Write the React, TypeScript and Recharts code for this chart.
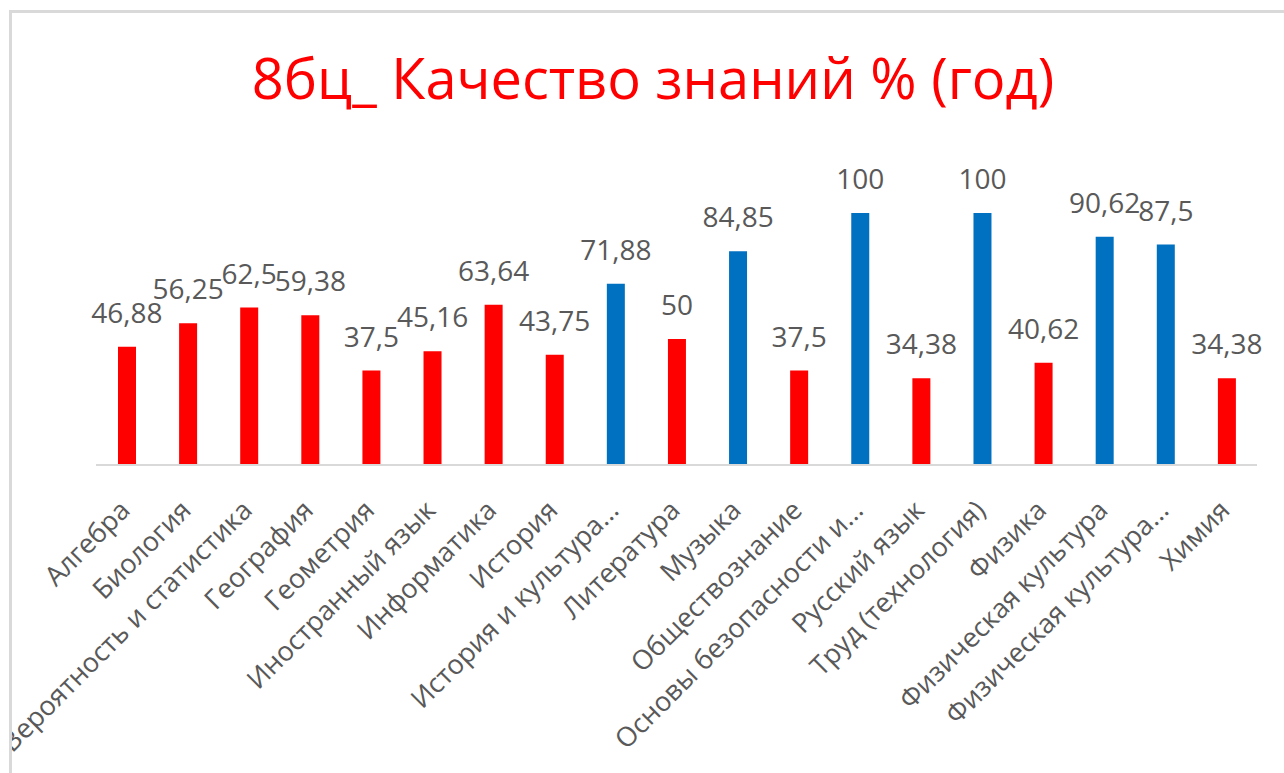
import React from "react";
import { BarChart, Bar, XAxis, YAxis, LabelList, Cell } from "recharts";

const subjects = [
  "Алгебра",
  "Биология",
  "Вероятность и статистика",
  "География",
  "Геометрия",
  "Иностранный язык",
  "Информатика",
  "История",
  "История и культура...",
  "Литература",
  "Музыка",
  "Обществознание",
  "Основы безопасности и...",
  "Русский язык",
  "Труд (технология)",
  "Физика",
  "Физическая культура",
  "Физическая культура...",
  "Химия",
];

const quality = [
  46.88, 56.25, 62.5, 59.38, 37.5, 45.16, 63.64, 43.75, 71.88, 50, 84.85, 37.5,
  100, 34.38, 100, 40.62, 90.62, 87.5, 34.38,
];

const title = "8бц_ Качество знаний % (год)";

const chartData = subjects.map((name, i) => ({ name, value: quality[i] }));

const FONT = "'Open Sans', 'Noto Sans', sans-serif";
const GREY = "#595959";

const SubjectTick = (props: any) => {
  const { x, y, payload } = props;
  return (
    <g transform={`translate(${x + 5},${y + 47})`}>
      <text
        transform="rotate(-45)"
        textAnchor="end"
        fill={GREY}
        fontSize={27}
        fontFamily={FONT}
      >
        {payload.value}
      </text>
    </g>
  );
};

const fmt = (v: any) => String(v).replace(".", ",");

export default function App() {
  return (
    <div
      style={{
        position: "absolute",
        left: 9,
        top: 10,
        width: 1275,
        height: 763,
        boxSizing: "border-box",
        borderTop: "3px solid #D9D9D9",
        borderLeft: "3px solid #D9D9D9",
        background: "#fff",
        overflow: "hidden",
      }}
    >
      <svg
        width={1272}
        height={130}
        style={{ position: "absolute", left: 0, top: 0, pointerEvents: "none" }}
      >
        <text
          x={641}
          y={86}
          textAnchor="middle"
          fill="#FF0000"
          fontSize={56}
          fontFamily={FONT}
        >
          {title}
        </text>
      </svg>
      <BarChart
        width={1272}
        height={760}
        data={chartData}
        margin={{ top: 200, right: 27, bottom: 0, left: 84 }}
        barCategoryGap={0}
      >
        <YAxis hide domain={[0, 100]} />
        <XAxis
          dataKey="name"
          interval={0}
          height={308}
          tickLine={false}
          tickSize={0}
          tickMargin={0}
          axisLine={{ stroke: "#D9D9D9", strokeWidth: 2 }}
          tick={<SubjectTick />}
        />
        <Bar dataKey="value" barSize={18} isAnimationActive={false}>
          {chartData.map((d, i) => (
            <Cell key={i} fill={d.value >= 70 ? "#0070C0" : "#FF0000"} />
          ))}
          <LabelList
            dataKey="value"
            position="top"
            offset={24}
            formatter={fmt}
            fill={GREY}
            fontSize={28}
            fontFamily={FONT}
          />
        </Bar>
      </BarChart>
    </div>
  );
}
